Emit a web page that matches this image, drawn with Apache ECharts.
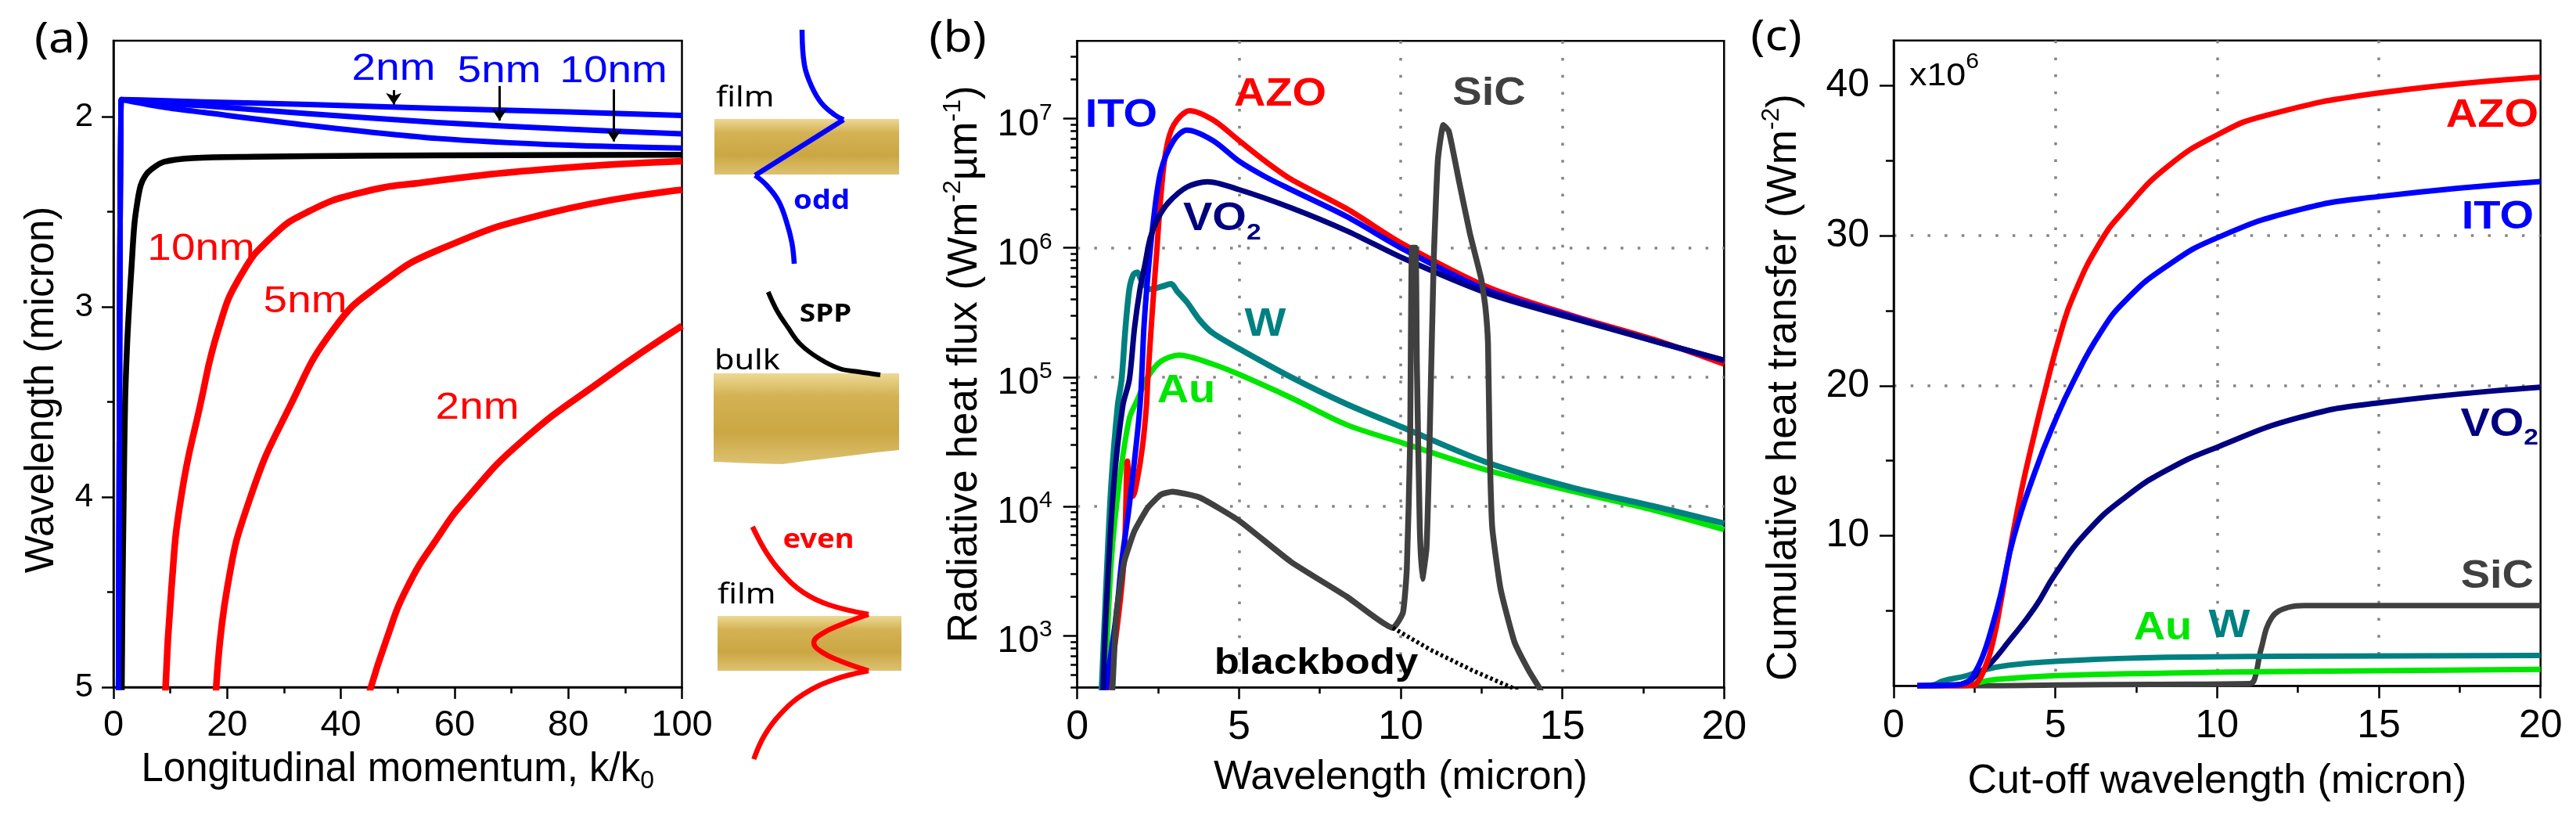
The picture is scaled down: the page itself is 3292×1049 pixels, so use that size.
<!DOCTYPE html>
<html>
<head>
<meta charset="utf-8">
<script src="https://cdn.jsdelivr.net/npm/echarts@6/dist/echarts.min.js"></script>
<style>
html, body { margin: 0; padding: 0; background: #fff; }
#chart { width: 3292px; height: 1049px; }
</style>
</head>
<body>
<div id="chart"></div>
<script>
var FONT = "'Liberation Sans', Arial, sans-serif";
var SKETCH_FONT = "'Noto Sans', 'Open Sans', sans-serif";
var RED = '#ff0000', BLUE = '#0000ff', NAVY = '#000080', TEAL = '#008080', GREEN = '#00e600', GREY = '#404040';

// ---- (a) dispersion: [k/k0, wavelength in micron]
var aBlue2nm = [[0.88, 5.05], [1.0, 4.0], [1.1, 3.0], [1.2, 2.4], [1.3, 2.05], [1.38, 1.91], [5, 1.912], [15.8, 1.922], [34.3, 1.935], [57, 1.956], [80, 1.975], [100, 1.993]];
var aBlue5nm = [[0.88, 5.05], [1.0, 4.0], [1.1, 3.0], [1.2, 2.4], [1.3, 2.05], [1.38, 1.91], [8.9, 1.93], [15.8, 1.942], [34.3, 1.984], [57, 2.03], [80, 2.065], [100, 2.09]];
var aBlue10nm = [[0.88, 5.05], [1.0, 4.0], [1.1, 3.0], [1.2, 2.4], [1.3, 2.05], [1.38, 1.91], [8.9, 1.95], [15.8, 1.977], [34.3, 2.045], [57, 2.114], [80, 2.15], [100, 2.165]];
var aBlackBulk = [[1.45, 5.05], [1.6, 4.5], [1.8, 4.0], [2.05, 3.5], [2.4, 3.2], [2.75, 3.0], [3.2, 2.78], [3.67, 2.57], [4.2, 2.45], [4.8, 2.36], [5.6, 2.31], [6.6, 2.278], [8.9, 2.237], [14, 2.217], [25, 2.21], [44, 2.205], [70, 2.202], [100, 2.2]];
var aRed10nm = [[9.1, 5.05], [10.2, 4.48], [11.9, 4.0], [15.2, 3.525], [18.5, 3.114], [22.3, 2.84], [27.8, 2.633], [34.2, 2.5], [43.4, 2.4], [54.4, 2.346], [76.5, 2.275], [100, 2.234]];
var aRed5nm = [[18.0, 5.05], [20, 4.48], [24.1, 4.0], [31.0, 3.525], [38.8, 3.114], [47, 2.88], [57.2, 2.70], [76.5, 2.507], [100, 2.384]];
var aRed2nm = [[44.8, 5.05], [47.9, 4.76], [51.6, 4.48], [57.1, 4.21], [62.1, 4.01], [71.7, 3.71], [86.2, 3.38], [100, 3.10]];
// arrows: [k, from wavelength, to wavelength]
var aArrows = [[49.3, 1.86, 1.936], [67.9, 1.838, 2.02], [88, 1.856, 2.13]];
var aYTicks = [2, 3, 4, 5];
var aYMinor = [2.5, 3.5, 4.5];

// ---- sketch next to (a), in local pixel units of its own box
var skFilmTop = [[33, 152], [269, 152], [269, 223], [33, 223]];
var skBulk = [[32, 477], [269, 477], [269, 575], [240, 578], [200, 583], [150, 589], [120, 593], [80, 592], [32, 590]];
var skFilmBottom = [[37, 787], [272, 787], [272, 857], [37, 857]];
var skOddTop = [[145, 38], [148, 83], [157, 110], [170, 132], [187, 147], [198, 153]];
var skOddMid = [[198, 153], [85, 224]];
var skOddBottom = [[85, 224], [100, 237], [115, 257], [125, 283], [132, 310], [135, 337]];
var skSpp = [[101.7, 373], [113, 397], [126.7, 418], [143, 440], [166.7, 458], [193, 471], [217, 475], [245, 479]];
var skEvenTop = [[81.7, 673], [100, 707], [120, 733], [146.7, 757], [180, 773], [230, 785]];
var skEvenMid = [[230, 785], [195, 798], [170, 810], [160, 821], [170, 833], [195, 845], [230, 857]];
var skEvenBottom = [[230, 857], [186.7, 868], [146.7, 887], [116.7, 913], [96.7, 940], [83.3, 970]];

// ---- (b) spectral flux: [wavelength micron, W m-2 um-1]
var bITO = [[0.86, 2.8e2], [0.9, 4.0e2], [1.21, 1.48e3], [1.37, 3.7e3], [1.61, 1.02e4], [1.94, 6.0e4], [2.06, 2.4e5], [2.18, 6.0e5], [2.34, 1.51e6], [2.58, 3.89e6], [2.98, 6.76e6], [3.39, 8.13e6], [4.19, 6.76e6], [5.0, 4.68e6], [5.81, 3.55e6], [6.61, 2.82e6], [8.34, 1.74e6], [10.07, 9.8e5], [12.66, 4.7e5], [15.25, 2.95e5], [17.84, 1.9e5], [20, 1.35e5]];
var bAZO = [[0.9, 3.2e2], [1.2, 1.0e3], [1.45, 4.0e3], [1.55, 2.24e4], [1.62, 1.41e4], [1.72, 1.2e4], [1.85, 1.58e4], [2.02, 2.95e4], [2.14, 6.03e4], [2.18, 9.55e4], [2.34, 3.8e5], [2.46, 9.55e5], [2.58, 2.45e6], [2.74, 5.62e6], [2.98, 8.91e6], [3.47, 1.15e7], [4.19, 9.77e6], [5.0, 6.76e6], [5.81, 4.68e6], [6.61, 3.39e6], [8.34, 2.0e6], [10.07, 1.07e6], [12.66, 5.01e5], [15.25, 3.02e5], [17.84, 1.95e5], [20, 1.26e5]];
var bVO2 = [[0.78, 2.8e2], [0.89, 1.48e3], [1.13, 1.48e4], [1.41, 6.03e4], [1.61, 9.55e4], [1.77, 2.4e5], [1.94, 4.79e5], [2.10, 7.59e5], [2.26, 1.2e6], [2.5, 1.7e6], [2.82, 2.24e6], [3.39, 2.95e6], [4.03, 3.24e6], [5.0, 2.82e6], [6.61, 2.04e6], [8.34, 1.35e6], [10.07, 8.32e5], [12.66, 4.47e5], [15.25, 2.88e5], [17.84, 1.9e5], [20, 1.35e5]];
var bW = [[0.73, 2.8e2], [0.89, 2.34e3], [1.05, 1.48e4], [1.25, 6.03e4], [1.37, 9.55e4], [1.49, 2.4e5], [1.61, 4.79e5], [1.73, 6.17e5], [1.85, 6.46e5], [2.0, 5.5e5], [2.26, 4.79e5], [2.6, 5.01e5], [2.9, 5.25e5], [3.1, 4.57e5], [3.39, 3.8e5], [3.79, 2.75e5], [4.19, 2.19e5], [5.0, 1.66e5], [6.61, 1.0e5], [8.34, 6.17e4], [10.07, 4.07e4], [12.66, 2.19e4], [15.25, 1.41e4], [17.84, 1.0e4], [20, 7.41e3]];
var bAu = [[0.78, 2.8e2], [0.85, 4.0e2], [1.05, 3.72e3], [1.29, 1.48e4], [1.61, 4.79e4], [1.85, 6.61e4], [2.18, 1.0e5], [2.58, 1.32e5], [3.15, 1.48e5], [4.19, 1.26e5], [5.0, 1.05e5], [6.61, 6.92e4], [8.34, 4.27e4], [10.07, 3.09e4], [12.66, 1.91e4], [15.25, 1.32e4], [17.84, 9.33e3], [20, 6.61e3]];
var bSiC = [[1.06, 3.2e2], [1.09, 4.0e2], [1.21, 1.48e3], [1.45, 3.72e3], [1.77, 6.46e3], [2.18, 9.77e3], [2.58, 1.23e4], [2.94, 1.3e4], [3.79, 1.17e4], [5.0, 7.76e3], [6.61, 3.72e3], [8.34, 2.0e3], [9.76, 1.15e3], [10.07, 1.51e3], [10.19, 3.31e3], [10.29, 2.95e4], [10.35, 1.0e6], [10.46, 1.0e6], [10.50, 1.26e5], [10.59, 6.92e3], [10.67, 2.75e3], [10.80, 4.79e3], [10.89, 2.95e4], [11.02, 7.76e5], [11.15, 4.79e6], [11.32, 8.91e6], [11.49, 7.94e6], [11.80, 3.31e6], [12.14, 1.29e6], [12.49, 5.75e5], [12.62, 3.47e5], [12.70, 1.82e5], [12.75, 2.95e4], [12.83, 6.92e3], [13.09, 2.29e3], [13.52, 8.91e2], [13.96, 5.37e2], [14.30, 3.89e2], [14.45, 3.2e2]];
var bBlackbody = [[9.76, 1.15e3], [10.93, 7.76e2], [12.23, 5.37e2], [13.52, 3.89e2], [13.8, 3.5e2]];
var bYMin = 398.1, bYMax = 3.981e7;
var bYTicks = [1e3, 1e4, 1e5, 1e6, 1e7];
var bYMinor = [400, 500, 600, 700, 800, 900,
  2e3, 3e3, 4e3, 5e3, 6e3, 7e3, 8e3, 9e3,
  2e4, 3e4, 4e4, 5e4, 6e4, 7e4, 8e4, 9e4,
  2e5, 3e5, 4e5, 5e5, 6e5, 7e5, 8e5, 9e5,
  2e6, 3e6, 4e6, 5e6, 6e6, 7e6, 8e6, 9e6,
  2e7, 3e7];

// ---- (c) cumulative transfer: [cut-off wavelength, x1e6 W m-2]
var cAZO = [[0.73, 0], [2.0, 0], [2.4, 0.05], [2.58, 0.2], [2.82, 1.2], [3.07, 2.94], [3.31, 5.55], [3.55, 8.5], [3.95, 13.0], [4.36, 16.85], [4.72, 20.0], [5.16, 23.5], [5.56, 26.0], [6.37, 29.5], [7.18, 31.8], [8.47, 34.6], [10, 36.7], [11.5, 38.0], [15, 39.5], [20, 40.55]];
var cITO = [[0.73, 0], [1.8, 0.05], [2.26, 0.24], [2.5, 0.85], [2.74, 1.9], [2.98, 3.46], [3.31, 6.07], [3.71, 9.9], [4.36, 14.2], [5.0, 17.7], [5.56, 20.3], [6.37, 23.45], [7.18, 25.7], [8.47, 28.0], [10, 29.85], [12.5, 31.7], [15, 32.6], [20, 33.6]];
var cVO2 = [[0.73, 0], [1.8, 0.05], [2.26, 0.24], [2.6, 0.8], [2.98, 1.46], [3.55, 2.94], [4.36, 5.2], [5.0, 7.46], [5.97, 10.24], [7.18, 12.6], [8.47, 14.4], [10, 15.9], [12.5, 17.85], [15, 18.85], [20, 19.9]];
var cW = [[0.73, 0], [1.2, 0.05], [1.53, 0.33], [2.26, 0.68], [2.74, 1.02], [3.55, 1.37], [5.0, 1.63], [8.47, 1.9], [12, 1.97], [20, 2.02]];
var cAu = [[0.73, 0], [2.3, 0.05], [2.58, 0.2], [3.15, 0.42], [5.0, 0.68], [8.47, 0.85], [12, 0.95], [20, 1.1]];
var cSiC = [[0.73, 0], [3, 0], [5, 0.05], [8, 0.1], [11.0, 0.15], [11.15, 0.4], [11.36, 2.45], [11.69, 4.55], [12.2, 5.23], [12.7, 5.35], [20, 5.35]];
var cYTicks = [10, 20, 30, 40];
var cYMinor = [5, 15, 25, 35];

var chart = echarts.init(document.getElementById('chart'), null, { renderer: 'canvas' });

var AX = { color: '#000', width: 2.5 };
var DOTS = { show: true, showMinLine: false, showMaxLine: false, lineStyle: { color: '#858585', width: 3.5, type: [3.5, 18.2] } };
var STRETCH = 1.12; // the source figure is a little wider than its fonts

function line(data, color, width, xi, yi, smooth, z, dash) {
  return {
    type: 'line', data: data, xAxisIndex: xi, yAxisIndex: yi,
    showSymbol: false, symbol: 'none', smooth: smooth, z: z || 2, silent: true,
    lineStyle: { color: color, width: width, type: dash || 'solid', join: 'round' },
    itemStyle: { color: color }, emphasis: { disabled: true }
  };
}

function text(x, y, str, size, color, opts) {
  opts = opts || {};
  var st = {
    text: str, fill: color, fontSize: size, fontFamily: opts.family || FONT,
    fontWeight: opts.weight || 'normal',
    align: opts.align || 'center', textAlign: opts.align || 'center',
    verticalAlign: 'middle', textVerticalAlign: 'middle'
  };
  if (opts.rich) st.rich = opts.rich;
  return { type: 'text', x: x, y: y, z: 100, silent: true, scaleX: STRETCH, style: st };
}

function subRich(color, base, small, lh, shift, valign) {
  return {
    a: { fill: color, fontSize: base, fontWeight: 'bold', fontFamily: FONT, lineHeight: lh },
    s: { fill: color, fontSize: small, fontWeight: 'bold', fontFamily: FONT, lineHeight: shift, verticalAlign: valign }
  };
}

var slabs = [skFilmTop, skBulk, skFilmBottom];
function goldFill() {
  return new echarts.graphic.LinearGradient(0, 0, 0, 1, [
    { offset: 0, color: '#ecd995' },
    { offset: 0.25, color: '#d4b254' },
    { offset: 0.65, color: '#cba743' },
    { offset: 1, color: '#dcc170' }
  ]);
}

var option = {
  animation: false,
  backgroundColor: '#fff',
  grid: [
    { left: 145, top: 52, width: 726.5, height: 826, show: true, borderColor: '#000', borderWidth: 2.5, backgroundColor: 'rgba(0,0,0,0)' },
    { left: 1376.7, top: 52.3, width: 826.6, height: 826, show: true, borderColor: '#000', borderWidth: 2.5, backgroundColor: 'rgba(0,0,0,0)' },
    { left: 2420, top: 51.7, width: 826.7, height: 824.6, show: true, borderColor: '#000', borderWidth: 2.5, backgroundColor: 'rgba(0,0,0,0)' },
    { left: 880, top: 0, width: 280, height: 1049, show: false }
  ],
  xAxis: [
    {
      gridIndex: 0, type: 'value', min: 0, max: 100, interval: 20,
      axisLine: { onZero: false, lineStyle: AX },
      axisTick: { length: 15, lineStyle: AX },
      minorTick: { show: true, splitNumber: 2, length: 8, lineStyle: AX },
      axisLabel: { color: '#000', fontFamily: FONT, fontSize: 47, margin: 26 },
      splitLine: { show: false },
      name: '{t|Longitudinal momentum, k/k}{u|0}', nameLocation: 'middle', nameGap: 76,
      nameTextStyle: {
        color: '#000', fontFamily: FONT, fontSize: 51,
        rich: {
          t: { color: '#000', fontFamily: FONT, fontSize: 51, lineHeight: 60 },
          u: { color: '#000', fontFamily: FONT, fontSize: 32, lineHeight: 14, verticalAlign: 'bottom' }
        }
      }
    },
    {
      gridIndex: 1, type: 'value', min: 0, max: 20, interval: 5,
      axisLine: { onZero: false, lineStyle: AX },
      axisTick: { length: 15, lineStyle: AX },
      minorTick: { show: true, splitNumber: 2, length: 8, lineStyle: AX },
      axisLabel: { color: '#000', fontFamily: FONT, fontSize: 52, margin: 25 },
      splitLine: DOTS,
      name: 'Wavelength (micron)', nameLocation: 'middle', nameGap: 85,
      nameTextStyle: { color: '#000', fontFamily: FONT, fontSize: 52, lineHeight: 60 }
    },
    {
      gridIndex: 2, type: 'value', min: 0, max: 20, interval: 5,
      axisLine: { onZero: false, lineStyle: AX },
      axisTick: { length: 16, lineStyle: AX },
      minorTick: { show: true, splitNumber: 2, length: 9, lineStyle: AX },
      axisLabel: { color: '#000', fontFamily: FONT, fontSize: 50, margin: 27 },
      splitLine: DOTS,
      name: 'Cut-off wavelength (micron)', nameLocation: 'middle', nameGap: 92,
      nameTextStyle: { color: '#000', fontFamily: FONT, fontSize: 52, lineHeight: 60 }
    },
    { gridIndex: 3, type: 'value', min: 0, max: 280, show: false }
  ],
  yAxis: [
    {
      gridIndex: 0, type: 'value', inverse: true, min: 1.6, max: 5,
      axisLine: { onZero: false, lineStyle: AX },
      axisTick: { length: 15, lineStyle: AX, customValues: aYTicks },
      axisLabel: { color: '#000', fontFamily: FONT, fontSize: 42, margin: 26, customValues: aYTicks },
      splitLine: { show: false },
      name: 'Wavelength (micron)', nameLocation: 'middle', nameGap: 59,
      nameTextStyle: { color: '#000', fontFamily: FONT, fontSize: 51, lineHeight: 64, padding: [0, 66, 0, 0] }
    },
    {
      gridIndex: 0, type: 'value', inverse: true, min: 1.6, max: 5, position: 'left',
      axisLine: { show: false },
      axisTick: { length: 8, lineStyle: AX, customValues: aYMinor },
      axisLabel: { show: false }, splitLine: { show: false }
    },
    {
      gridIndex: 1, type: 'log', logBase: 10, min: bYMin, max: bYMax,
      axisLine: { onZero: false, lineStyle: AX },
      axisTick: { length: 18, lineStyle: AX, customValues: bYTicks },
      axisLabel: {
        customValues: bYTicks, margin: 32, padding: [16, 0, 0, 0],
        formatter: function (v) {
          return '{b|10}{s|' + Math.round(Math.log(v) / Math.LN10) + '}';
        },
        rich: {
          b: { color: '#000', fontFamily: FONT, fontSize: 48, lineHeight: 60 },
          s: { color: '#000', fontFamily: FONT, fontSize: 30, lineHeight: 22, verticalAlign: 'top' }
        }
      },
      splitLine: DOTS,
      name: '{t|Radiative heat flux (Wm}{s|-2}{t|\u00b5m}{s|-1}{t|)}', nameLocation: 'middle', nameGap: 111,
      nameTextStyle: {
        color: '#000', fontFamily: FONT, fontSize: 53,
        rich: {
          t: { color: '#000', fontFamily: FONT, fontSize: 53, lineHeight: 64 },
          s: { color: '#000', fontFamily: FONT, fontSize: 32, lineHeight: 21, verticalAlign: 'top' }
        }
      }
    },
    {
      gridIndex: 1, type: 'log', logBase: 10, min: bYMin, max: bYMax, position: 'left',
      axisLine: { show: false },
      axisTick: { length: 8.5, lineStyle: AX, customValues: bYMinor },
      axisLabel: { show: false }, splitLine: { show: false }
    },
    {
      gridIndex: 2, type: 'value', min: 0, max: 43, interval: 10,
      axisLine: { onZero: false, lineStyle: AX },
      axisTick: { length: 18, lineStyle: AX, customValues: cYTicks },
      axisLabel: { color: '#000', fontFamily: FONT, fontSize: 50, margin: 31, customValues: cYTicks },
      splitLine: DOTS,
      name: '{t|Cumulative heat transfer (Wm}{s|-2}{t|)}', nameLocation: 'middle', nameGap: 108,
      nameTextStyle: {
        color: '#000', fontFamily: FONT, fontSize: 53, padding: [0, 62, 0, 0],
        rich: {
          t: { color: '#000', fontFamily: FONT, fontSize: 53, lineHeight: 64 },
          s: { color: '#000', fontFamily: FONT, fontSize: 32, lineHeight: 21, verticalAlign: 'top' }
        }
      }
    },
    {
      gridIndex: 2, type: 'value', min: 0, max: 43, position: 'left',
      axisLine: { show: false },
      axisTick: { length: 10, lineStyle: AX, customValues: cYMinor },
      axisLabel: { show: false }, splitLine: { show: false }
    },
    { gridIndex: 3, type: 'value', min: 0, max: 1049, inverse: true, show: false }
  ],
  series: [
    // (a)
    line(aRed10nm, RED, 8.5, 0, 0, 0.5),
    line(aRed5nm, RED, 8.5, 0, 0, 0.5),
    line(aRed2nm, RED, 8.5, 0, 0, 0.5),
    line(aBlackBulk, '#000', 7.5, 0, 0, 0.35),
    line(aBlue10nm, BLUE, 7, 0, 0, 0.3),
    line(aBlue5nm, BLUE, 7, 0, 0, 0.3),
    (function () {
      var s = line(aBlue2nm, BLUE, 7, 0, 0, 0.3);
      s.markLine = {
        silent: true, animation: false, symbol: ['none', 'arrow'], symbolSize: 15,
        label: { show: false }, emphasis: { disabled: true },
        lineStyle: { color: '#000', width: 3, type: 'solid' },
        data: aArrows.map(function (a) { return [{ coord: [a[0], a[1]] }, { coord: [a[0], a[2]] }]; })
      };
      return s;
    })(),
    // sketch
    {
      type: 'custom', xAxisIndex: 3, yAxisIndex: 6, z: 1, silent: true,
      data: [[0, 0], [1, 0], [2, 0]],
      renderItem: function (params, api) {
        var pts = slabs[params.dataIndex].map(function (p) { return api.coord(p); });
        return { type: 'polygon', shape: { points: pts }, style: { fill: goldFill() } };
      }
    },
    line(skOddTop, BLUE, 6.5, 3, 6, 0.4, 3),
    line(skOddMid, BLUE, 6.5, 3, 6, 0, 3),
    line(skOddBottom, BLUE, 6.5, 3, 6, 0.4, 3),
    line(skSpp, '#000', 6, 3, 6, 0.4, 3),
    line(skEvenTop, RED, 6.5, 3, 6, 0.4, 3),
    line(skEvenMid, RED, 6.5, 3, 6, 0.45, 3),
    line(skEvenBottom, RED, 6.5, 3, 6, 0.4, 3),
    // (b)
    line(bAu, GREEN, 7, 1, 2, 0.3),
    line(bW, TEAL, 7.5, 1, 2, 0.3),
    line(bAZO, RED, 7, 1, 2, 0.3),
    line(bITO, BLUE, 7, 1, 2, 0.3),
    line(bVO2, NAVY, 7, 1, 2, 0.3),
    line(bSiC, GREY, 7.5, 1, 2, 0.15, 4),
    line(bBlackbody, '#000', 5.5, 1, 2, false, 4, [3.5, 3.5]),
    // (c)
    line(cSiC, GREY, 7, 2, 4, 0.4),
    line(cAu, GREEN, 7, 2, 4, 0.5),
    line(cW, TEAL, 7, 2, 4, 0.5),
    line(cVO2, NAVY, 7, 2, 4, 0.5),
    line(cAZO, RED, 7, 2, 4, 0.5),
    line(cITO, BLUE, 7, 2, 4, 0.5)
  ],
  graphic: [
    text(79, 52, '(a)', 54, '#000', { family: SKETCH_FONT }),
    text(1224, 51, '(b)', 54, '#000', { family: SKETCH_FONT }),
    text(2270, 49, '(c)', 54, '#000', { family: SKETCH_FONT }),

    text(503, 88.5, '2nm', 49, BLUE),
    text(638, 91, '5nm', 49, BLUE),
    text(784, 91, '10nm', 49, BLUE),
    text(257, 318.5, '10nm', 49, RED),
    text(390, 385.5, '5nm', 49, RED),
    text(610, 521, '2nm', 49, RED),

    text(915, 125, 'film', 37, '#000', { family: SKETCH_FONT, align: 'left' }),
    text(1050, 257, 'odd', 34, BLUE, { family: SKETCH_FONT, weight: 'bold' }),
    text(1055, 402, 'SPP', 33, '#000', { family: SKETCH_FONT, weight: 'bold' }),
    text(913, 461, 'bulk', 37, '#000', { family: SKETCH_FONT, align: 'left' }),
    text(1046, 690, 'even', 34, RED, { family: SKETCH_FONT, weight: 'bold' }),
    text(917, 760, 'film', 37, '#000', { family: SKETCH_FONT, align: 'left' }),

    text(1433, 148, 'ITO', 50, BLUE, { weight: 'bold' }),
    text(1636, 121.5, 'AZO', 50, RED, { weight: 'bold' }),
    text(1512, 280.5, '{a|VO}{s|2}', 50, NAVY, { align: 'left', rich: subRich(NAVY, 50, 30, 64, 6, 'bottom') }),
    text(1617, 415.5, 'W', 50, TEAL, { weight: 'bold' }),
    text(1516, 500, 'Au', 50, GREEN, { weight: 'bold' }),
    text(1903, 120, 'SiC', 50, GREY, { weight: 'bold' }),
    text(1682, 848, 'blackbody', 47, '#000', { weight: 'bold' }),

    text(2440, 98, '{b|x10}{s|6}', 40, '#000', {
      align: 'left',
      rich: {
        b: { fill: '#000', fontSize: 40, fontFamily: FONT, lineHeight: 64 },
        s: { fill: '#000', fontSize: 27, fontFamily: FONT, lineHeight: 9, verticalAlign: 'top' }
      }
    }),
    text(3244, 148.5, 'AZO', 50, RED, { weight: 'bold', align: 'right' }),
    text(3238, 278.5, 'ITO', 50, BLUE, { weight: 'bold', align: 'right' }),
    text(3244, 543, '{a|VO}{s|2}', 50, NAVY, { align: 'right', rich: subRich(NAVY, 50, 30, 64, 3, 'bottom') }),
    text(3238, 737.5, 'SiC', 50, GREY, { weight: 'bold', align: 'right' }),
    text(2764, 803, 'Au', 50, GREEN, { weight: 'bold' }),
    text(2849, 800.5, 'W', 50, TEAL, { weight: 'bold' })
  ]
};

chart.setOption(option);
</script>
</body>
</html>
